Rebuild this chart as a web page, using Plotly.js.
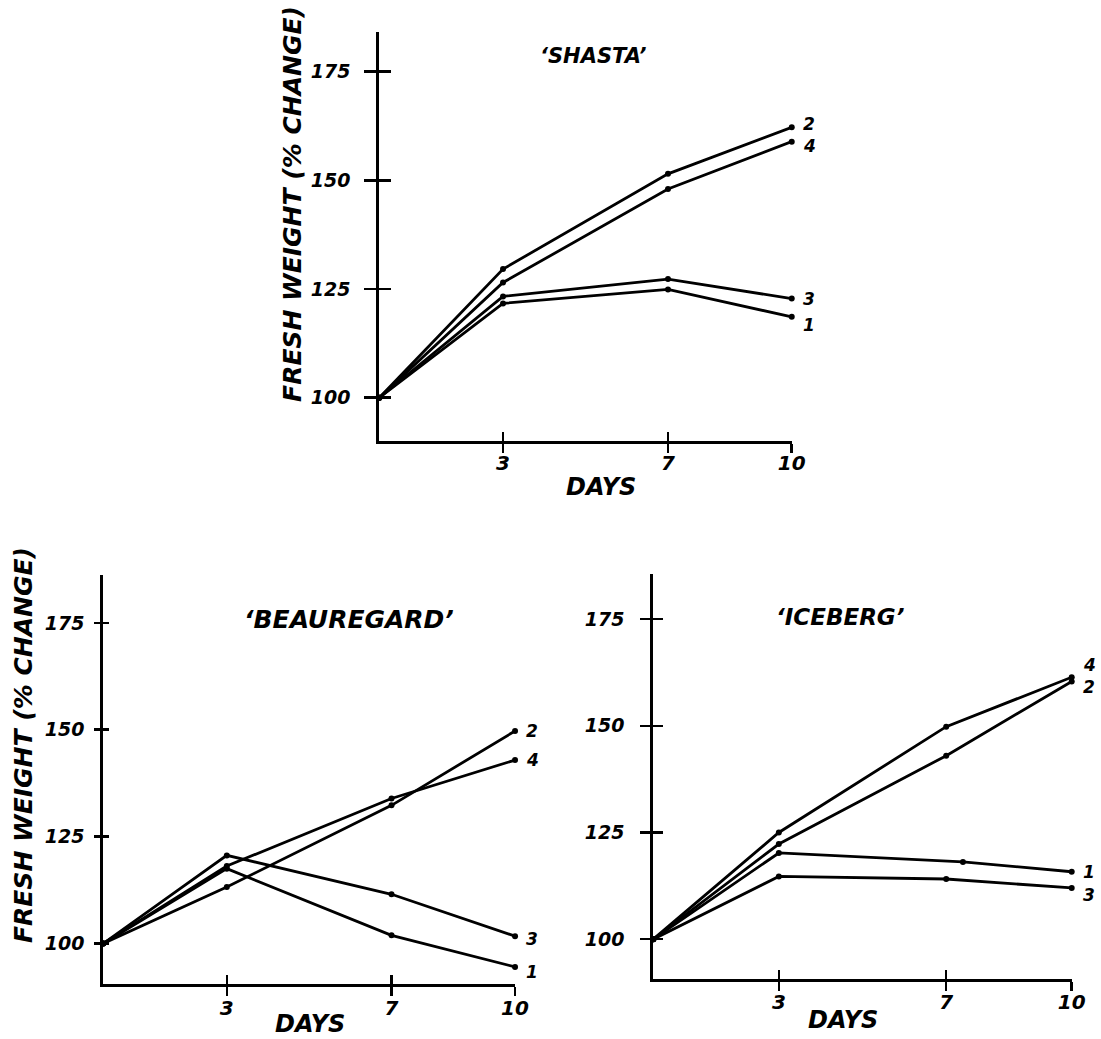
<!DOCTYPE html>
<html>
<head>
<meta charset="utf-8">
<script src="https://cdn.plot.ly/plotly-3.0.1.min.js"></script>
<style>
  html, body { margin: 0; padding: 0; background: #fff; }
  #chart { width: 1101px; height: 1039px; }
</style>
</head>
<body>
<div id="chart"></div>
<script>
// ---------- data ----------
const days = [0, 3, 7, 10];
const iceberg1Days = [0, 3, 7.4, 10];

const shasta1 = [100, 121.7, 124.9, 118.6];
const shasta2 = [100, 129.6, 151.5, 162.2];
const shasta3 = [100, 123.3, 127.3, 122.8];
const shasta4 = [100, 126.5, 148.0, 158.9];

const beau1 = [100, 117.5, 101.9, 94.5];
const beau2 = [100, 113.2, 132.3, 149.7];
const beau3 = [100, 120.6, 111.5, 101.7];
const beau4 = [100, 118.1, 133.9, 142.9];

const ice1 = [100, 120.2, 118.1, 115.8];
const ice2 = [100, 122.3, 143.0, 160.4];
const ice3 = [100, 114.7, 114.1, 112.0];
const ice4 = [100, 125.0, 149.8, 161.4];

const xTickVals = [3, 7, 10];
const xTickText = ['3', '7', '10'];
const yTickVals = [100, 125, 150, 175];
const yTickText = ['100', '125', '150', '175'];

const titles = ['\u2018SHASTA\u2019', '\u2018BEAUREGARD\u2019', '\u2018ICEBERG\u2019'];
const yTitle = 'FRESH WEIGHT (% CHANGE)';
const xTitle = 'DAYS';

// ---------- styling ----------
const FONT = 'DejaVu Sans, Liberation Sans, sans-serif';
const ital = (size) => ({family: FONT, size: size, color: '#000', style: 'italic', weight: 'bold'});

const traces = [];
function addSeries(x, y, xa, ya) {
  traces.push({
    x: x, y: y, xaxis: xa, yaxis: ya, type: 'scatter', mode: 'lines+markers',
    line: {color: '#000', width: 2.8},
    marker: {color: '#000', size: 6},
    cliponaxis: false, hoverinfo: 'x+y', showlegend: false
  });
}
// Shasta
addSeries(days, shasta1, 'x', 'y');
addSeries(days, shasta2, 'x', 'y');
addSeries(days, shasta3, 'x', 'y');
addSeries(days, shasta4, 'x', 'y');
// Beauregard
addSeries(days, beau1, 'x2', 'y2');
addSeries(days, beau2, 'x2', 'y2');
addSeries(days, beau3, 'x2', 'y2');
addSeries(days, beau4, 'x2', 'y2');
// Iceberg
addSeries(iceberg1Days, ice1, 'x3', 'y3');
addSeries(days, ice2, 'x3', 'y3');
addSeries(days, ice3, 'x3', 'y3');
addSeries(days, ice4, 'x3', 'y3');
// empty traces so overlay tick axes exist
[['x4','y4'],['x5','y5'],['x6','y6']].forEach(p => traces.push({
  x: [], y: [], xaxis: p[0], yaxis: p[1], type: 'scatter', mode: 'markers',
  showlegend: false, hoverinfo: 'skip'
}));

function xAxis(domain, anchor, range, standoff) {
  return {
    domain: domain, anchor: anchor, range: range, showline: true, linewidth: 3,
    linecolor: '#000', ticks: 'outside', ticklen: 9, tickwidth: 2.5, tickcolor: '#000',
    tickmode: 'array', tickvals: xTickVals, ticktext: xTickText, showgrid: false,
    zeroline: false, tickfont: ital(20), ticklabelstandoff: standoff, fixedrange: true
  };
}
function yAxis(domain, anchor, range, ticklen, standoff) {
  return {
    domain: domain, anchor: anchor, range: range, showline: true, linewidth: 3,
    linecolor: '#000', ticks: 'outside', ticklen: ticklen, tickwidth: 2.5, tickcolor: '#000',
    tickmode: 'array', tickvals: yTickVals, ticktext: yTickText, showgrid: false,
    zeroline: false, tickfont: ital(19), ticklabelstandoff: standoff, fixedrange: true
  };
}
function overX(base, anchor, range) {
  return {overlaying: base, anchor: anchor, range: range, showline: false,
    ticks: 'inside', ticklen: 9, tickwidth: 2.5, tickcolor: '#000', tickmode: 'array',
    tickvals: xTickVals, showticklabels: false, showgrid: false, zeroline: false, fixedrange: true};
}
function overY(base, anchor, range, ticklen) {
  return {overlaying: base, anchor: anchor, range: range, showline: false,
    ticks: 'inside', ticklen: ticklen, tickwidth: 2.5, tickcolor: '#000', tickmode: 'array',
    tickvals: yTickVals, showticklabels: false, showgrid: false, zeroline: false, fixedrange: true};
}

const xr = [0, 10];
const yrS = [90.1, 184.2], yrB = [90.5, 186.2], yrI = [90.6, 185.6];

const layout = {
  width: 1101, height: 1039,
  margin: {l: 0, r: 0, t: 0, b: 0},
  paper_bgcolor: '#fff', plot_bgcolor: 'rgba(0,0,0,0)',
  showlegend: false,
  xaxis:  xAxis([0.3445, 0.7191], 'y',  xr, -7),
  yaxis:  yAxis([0.5758, 0.9695], 'x',  yrS, 12, 10),
  xaxis2: xAxis([0.0938, 0.4678], 'y2', xr, -5),
  yaxis2: yAxis([0.0529, 0.4466], 'x2', yrB, 6, 6),
  xaxis3: xAxis([0.5934, 0.9734], 'y3', xr, -6),
  yaxis3: yAxis([0.0575, 0.4476], 'x3', yrI, 10, 12),
  xaxis4: overX('x',  'y4', xr), yaxis4: overY('y',  'x4', yrS, 12),
  xaxis5: overX('x2', 'y5', xr), yaxis5: overY('y2', 'x5', yrB, 6),
  xaxis6: overX('x3', 'y6', xr), yaxis6: overY('y3', 'x6', yrI, 10),
  annotations: []
};

const A = layout.annotations;
function paperText(text, x, y, size, angle) {
  A.push({text: text, x: x, y: y, xref: 'paper', yref: 'paper', showarrow: false,
    xanchor: 'center', yanchor: 'middle', textangle: angle || 0, font: ital(size)});
}
// panel titles
paperText(titles[0], 0.5386, 0.9461, 21);
paperText(titles[1], 0.3170, 0.4033, 25);
paperText(titles[2], 0.7638, 0.4062, 23);
// axis titles
paperText(yTitle, 0.2661, 0.8037, 25, -90);
paperText(yTitle, 0.0218, 0.2830, 25, -90);
paperText(xTitle, 0.5459, 0.5313, 24);
paperText(xTitle, 0.2816, 0.0144, 24);
paperText(xTitle, 0.7657, 0.0183, 24);

// end-of-line series labels
function endLabel(xs, ys, xa, ya, text, dy) {
  A.push({text: text, x: xs[xs.length - 1], y: ys[ys.length - 1], xref: xa, yref: ya,
    showarrow: false, xanchor: 'left', yanchor: 'middle', xshift: 9, yshift: dy,
    font: ital(17)});
}
endLabel(days, shasta2, 'x', 'y', '2', 3);
endLabel(days, shasta4, 'x', 'y', '4', -4);
endLabel(days, shasta3, 'x', 'y', '3', 0);
endLabel(days, shasta1, 'x', 'y', '1', -8);
endLabel(days, beau2, 'x2', 'y2', '2', 0);
endLabel(days, beau4, 'x2', 'y2', '4', 0);
endLabel(days, beau3, 'x2', 'y2', '3', -3);
endLabel(days, beau1, 'x2', 'y2', '1', -5);
endLabel(days, ice4, 'x3', 'y3', '4', 12);
endLabel(days, ice2, 'x3', 'y3', '2', -6);
endLabel(iceberg1Days, ice1, 'x3', 'y3', '1', 0);
endLabel(days, ice3, 'x3', 'y3', '3', -7);

Plotly.newPlot('chart', traces, layout, {displayModeBar: false, staticPlot: true});
</script>
</body>
</html>
